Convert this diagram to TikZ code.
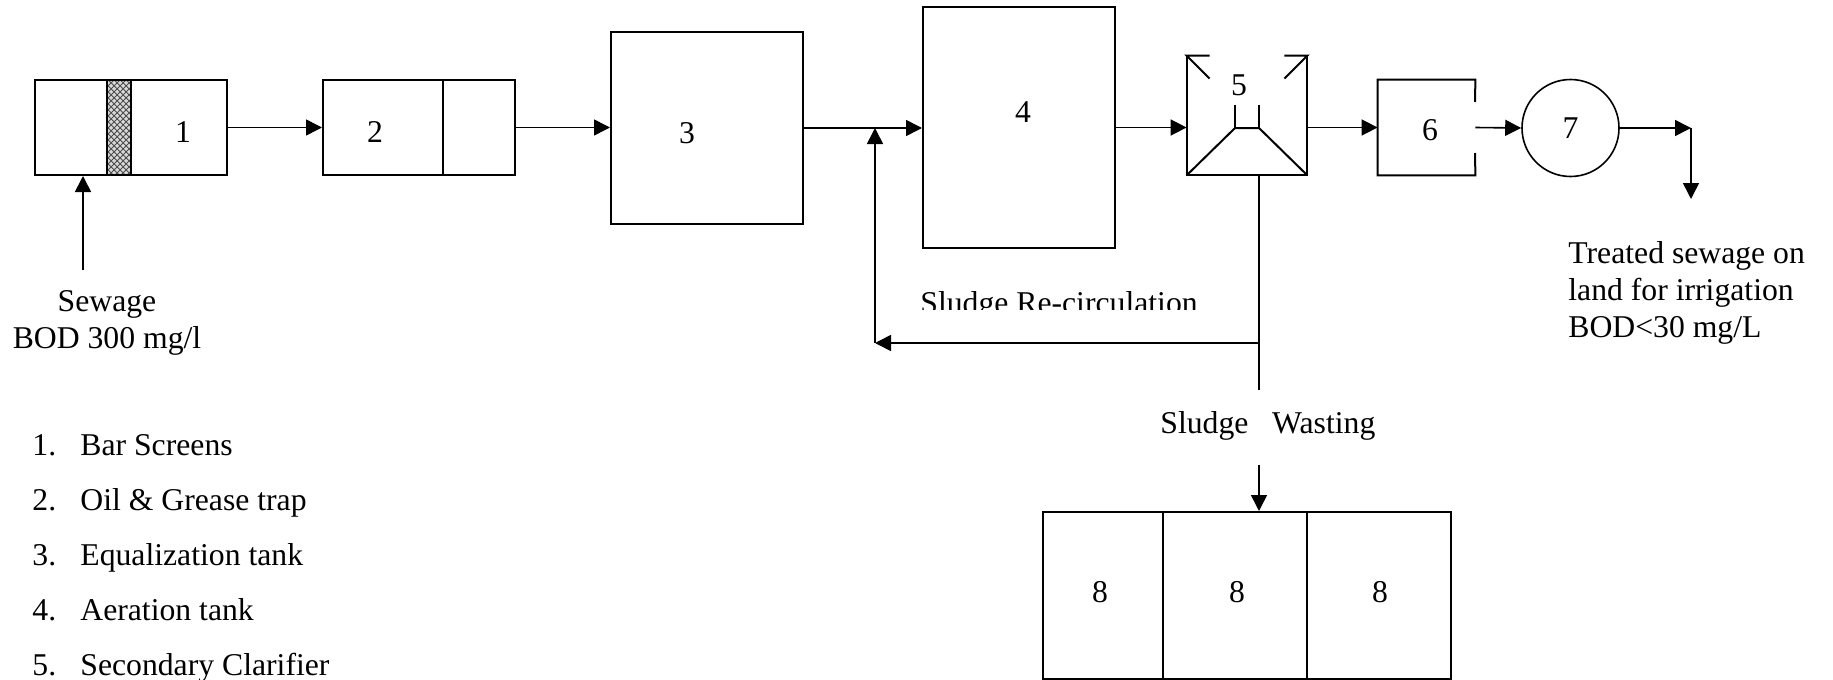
\documentclass[tikz,border=0pt]{standalone}
\usepackage{fontspec}
\setmainfont{Liberation Serif}
\usetikzlibrary{arrows.meta,positioning,calc,patterns}

\begin{document}
\begin{tikzpicture}[x=0.5pt,y=-0.5pt,
    font=\fontsize{15.85}{18.5}\selectfont,
    tank/.style={draw,line width=1pt,inner sep=0},
    wall/.style={line width=1pt},
    flow/.style={line width=0.8pt,-{Triangle[length=8pt,width=8pt]}},
    lbl/.style={inner sep=0}]
    \useasboundingbox (0,0) rectangle (1833,680);
    \clip (0,0) rectangle (1833,680);

    % Bar screens
    \node[tank,minimum width=96pt,minimum height=47.5pt] (b1) at (131,127.5) {};
    \node[tank,preaction={fill=gray!30},pattern=crosshatch,pattern color=gray!60!black,
          minimum width=12pt,minimum height=47.5pt] (screen) at (119,127.5) {};
    \node[lbl] (l1) at (183,132) {1};

    % Oil and grease trap
    \node[tank,minimum width=96pt,minimum height=47.5pt] (b2) at (419,127.5) {};
    \draw[wall] (443,80) -- (443,175);
    \node[lbl] (l2) at (375,132) {2};

    % Equalization and aeration tanks
    \node[tank,minimum width=96pt,minimum height=96pt] (b3) at (707,128) {};
    \node[lbl] (l3) at (687,133) {3};
    \node[tank,minimum width=96pt,minimum height=120.5pt] (b4) at (1019,127.5) {};
    \node[lbl] (l4) at (1023,112) {4};

    % Secondary clarifier
    \node[minimum width=60pt,minimum height=59.5pt,inner sep=0] (b5) at (1247,115.5) {};
    \draw[wall] (b5.north west) -- (b5.south west) -- (b5.south east) -- (b5.north east);
    \draw[wall] ($(b5.north west)+(23,0)$) -- (b5.north west) -- +(23,23);
    \draw[wall] ($(b5.north east)+(-23,0)$) -- (b5.north east) -- +(-23,23);
    \draw[wall] (b5.south west) -- (1235,128) -- (1259,128) -- (b5.south east);
    \draw[wall] (1235,105) -- (1235,128) (1259,105) -- (1259,128);
    \node[lbl] (l5) at (1239,85) {5};

    % 6 and 7
    \node[minimum width=48.5pt,minimum height=47.5pt,inner sep=0] (b6) at (1426.5,127.5) {};
    \draw[wall] (1475,102) -- (b6.north east) -- (b6.north west)
        -- (b6.south west) -- (b6.south east) -- (1475,153);
    \node[lbl] (l6) at (1430,130) {6};
    \node[draw,circle,line width=0.8pt,minimum size=48.5pt,inner sep=0] (c7) at (1570.5,128) {7};

    % Sludge beds
    \node[tank,minimum width=204pt,minimum height=83.5pt] (b8) at (1247,595.5) {};
    \foreach \x in {1163,1307}
        \draw[wall] (\x,512) -- (\x,679);
    \foreach \x [count=\i] in {1100,1237,1380}
        \node[lbl] (l8\i) at (\x,592) {8};

    % flow lines
    \coordinate (inlet) at (83,270);
    \coordinate (bend) at (1691,128);
    \coordinate (outlet) at (1691,199);
    \coordinate (drain) at (1259,175);
    \coordinate (split) at (1259,343);
    \coordinate (waste) at (1259,390);
    \coordinate (return) at (875,343);
    \coordinate (wtop) at (1259,465);

    \draw[flow] (inlet) -- (inlet |- b1.south);
    \draw[flow] (b1.east) -- (b2.west);
    \draw[flow] (b2.east) -- (b2.east -| b3.west);
    \draw[flow] (b3.east) -- (b3.east -| b4.west);
    \draw[flow] (b4.east) -- (b4.east -| b5.west);
    \draw[flow] (b4.east -| b5.east) -- (b4.east -| b6.west);
    \draw[flow] (b6.east) -- (c7.west);
    \draw[flow] (c7.east) -- (bend);
    \draw[flow] (bend) -- (outlet);
    \draw[line width=0.8pt] (drain) -- (waste);
    \draw[flow] (split) -- (return);
    \draw[flow] (return) -- (return |- b3.east);
    \draw[flow] (wtop) -- (wtop |- b8.north);

    % texts
    \node[lbl,align=center,anchor=north] (feed) at (107,290.5) {Sewage\\BOD 300 mg/l};
    \node[lbl,align=left,anchor=north west] (effluent) at (1568,241)
        {Treated sewage on\\land for irrigation\\BOD<30 mg/L};
    \begin{scope}
        \clip (900,280) rectangle (1220,309);
        \node[lbl,anchor=base west] (recirc) at (920,313) {Sludge Re-circulation};
    \end{scope}
    \node[lbl,anchor=base west] (wasting) at (1160,433) {Sludge\ \ \ Wasting};

    % legend
    \foreach \t [count=\i] in {Bar Screens,Oil \& Grease trap,Equalization tank,Aeration tank,Secondary Clarifier} {
        \node[lbl,anchor=base west] (num\i) at (32,400+55*\i) {\i.};
        \node[lbl,anchor=base west] (item\i) at (80,400+55*\i) {\t};
    }
\end{tikzpicture}
\end{document}
